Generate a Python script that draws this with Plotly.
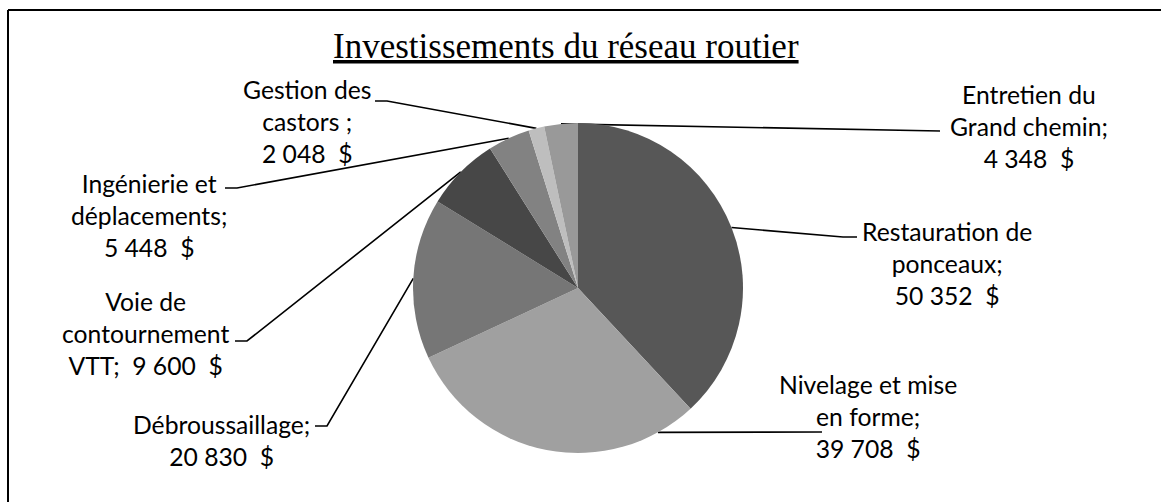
import math
import plotly.graph_objects as go

# ---------------- data ----------------
categories = [
    "Restauration de ponceaux",
    "Nivelage et mise en forme",
    "Débroussaillage",
    "Voie de contournement VTT",
    "Ingénierie et déplacements",
    "Gestion des castors",
    "Entretien du Grand chemin",
]
values = [50352, 39708, 20830, 9600, 5448, 2048, 4348]
label_templates = [
    "Restauration de<br>ponceaux;<br>{v}",
    "Nivelage et mise<br>en forme;<br>{v}",
    "Débroussaillage;<br>{v}",
    "Voie de<br>contournement<br>VTT;\u00a0\u00a0{v}",
    "Ingénierie et<br>déplacements;<br>{v}",
    "Gestion des<br>castors ;<br>{v}",
    "Entretien du<br>Grand chemin;<br>{v}",
]
title_text = "Investissements du réseau routier"

# ---------------- styles / layout ----------------
colors = ["#575757", "#a0a0a0", "#767676", "#474747", "#828282", "#bebebe", "#999999"]
W, H = 1161, 502
CX, CY, R = 578, 288, 165          # pie centre / radius in pixels
# fraction within each slice where the leader line attaches
anchor_frac = [0.5, 0.13, 0.5, 0.5, 0.5, 0.5, 0.5]
# leader elbow and end points (pixels)
elbows = [(843, 237), (812, 432), (327, 426), (247, 341), (237, 188), (387, 101), (928, 131)]
ends = [(857, 237), (822, 432), (315, 426), (235, 341), (225, 188), (375, 101), (940, 131)]
# label centres (pixels)
label_pos = [(947, 263), (868, 416), (221, 440), (145, 333), (149, 215), (307, 121), (1029, 126)]

LABEL_FONT = dict(family="Lato, 'Liberation Sans', sans-serif", size=24.7, color="black")


def fmt(v):
    return f"{v:,}".replace(",", "\u00a0") + "\u00a0\u00a0$"


fig = go.Figure()

fig.add_trace(go.Pie(
    labels=categories,
    values=values,
    sort=False,
    direction="clockwise",
    rotation=0,
    marker=dict(colors=colors, line=dict(width=0)),
    textinfo="none",
    hoverinfo="label+value",
    showlegend=False,
    domain=dict(x=[(CX - R) / W, (CX + R) / W],
                y=[(H - CY - R) / H, (H - CY + R) / H]),
))

# leader lines computed from the slice angles
total = sum(values)
xs, ys = [], []
cum = 0
for i, v in enumerate(values):
    ang = (cum + anchor_frac[i] * v) / total * 2 * math.pi
    cum += v
    ax = CX + R * math.sin(ang)
    ay = CY - R * math.cos(ang)
    xs += [ax, elbows[i][0], ends[i][0], None]
    ys += [ay, elbows[i][1], ends[i][1], None]

fig.add_trace(go.Scatter(
    x=xs, y=ys, mode="lines",
    line=dict(color="black", width=1.6),
    hoverinfo="skip", showlegend=False,
    xaxis="x", yaxis="y",
))

annotations = []
for i, v in enumerate(values):
    annotations.append(dict(
        x=label_pos[i][0], y=label_pos[i][1], xref="x", yref="y",
        text=label_templates[i].format(v=fmt(v)),
        showarrow=False, xanchor="center", yanchor="middle",
        align="center", font=LABEL_FONT,
    ))

annotations.append(dict(
    x=566, y=46, xref="x", yref="y",
    text="<u>" + title_text + "</u>",
    showarrow=False, xanchor="center", yanchor="middle",
    font=dict(family="'Liberation Serif', 'Times New Roman', serif", size=35, color="black"),
))

shapes = [
    dict(type="line", xref="x", yref="y", x0=8, y0=10, x1=W, y1=10,
         line=dict(color="black", width=2)),
    dict(type="line", xref="x", yref="y", x0=8, y0=10, x1=8, y1=H,
         line=dict(color="black", width=2)),
]

fig.update_layout(
    width=W, height=H,
    margin=dict(l=0, r=0, t=0, b=0),
    paper_bgcolor="white", plot_bgcolor="rgba(0,0,0,0)",
    xaxis=dict(range=[0, W], visible=False, fixedrange=True, domain=[0, 1]),
    yaxis=dict(range=[H, 0], visible=False, fixedrange=True, domain=[0, 1]),
    annotations=annotations,
    shapes=shapes,
)

fig.write_html(
    "out.html",
    config={"displayModeBar": False},
    post_script="document.body.style.margin='0';document.documentElement.style.overflow='hidden';",
)
